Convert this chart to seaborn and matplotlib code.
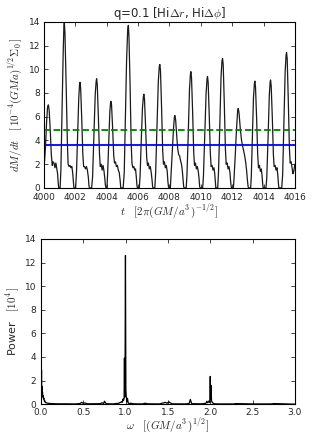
import numpy as np
import pandas as pd
import matplotlib
matplotlib.use('Agg')
import matplotlib.pyplot as plt
import seaborn as sns

# Akkretionsrate dM/dt (Zyklus fuer Zyklus)
t_vals = [
    4000.00, 4000.04, 4000.10, 4000.17, 4000.23, 4000.28, 4000.33, 4000.40, 4000.47, 4000.53, 4000.58, 4000.64, 4000.70, 4000.76, 4000.82, 4000.87, 4000.91, 4000.94, 4001.03,
    4001.08, 4001.15, 4001.22, 4001.27, 4001.30, 4001.34, 4001.41, 4001.49, 4001.54, 4001.60, 4001.66, 4001.72, 4001.78, 4001.83, 4001.88, 4001.91, 4002.02,
    4002.08, 4002.15, 4002.22, 4002.27, 4002.30, 4002.34, 4002.41, 4002.48, 4002.53, 4002.59, 4002.65, 4002.71, 4002.77, 4002.83, 4002.87, 4002.90, 4003.04,
    4003.10, 4003.18, 4003.27, 4003.33, 4003.36, 4003.40, 4003.47, 4003.54, 4003.59, 4003.65, 4003.71, 4003.77, 4003.83, 4003.88, 4003.92, 4003.96, 4004.02,
    4004.06, 4004.13, 4004.20, 4004.25, 4004.27, 4004.31, 4004.38, 4004.45, 4004.50, 4004.56, 4004.62, 4004.68, 4004.74, 4004.80, 4004.86, 4004.90, 4005.05,
    4005.12, 4005.19, 4005.27, 4005.34, 4005.38, 4005.42, 4005.49, 4005.56, 4005.61, 4005.67, 4005.73, 4005.79, 4005.84, 4005.89, 4005.93, 4005.96, 4006.08,
    4006.13, 4006.20, 4006.28, 4006.34, 4006.37, 4006.41, 4006.48, 4006.55, 4006.60, 4006.66, 4006.72, 4006.78, 4006.84, 4006.89, 4006.93, 4006.96, 4007.07,
    4007.12, 4007.20, 4007.29, 4007.35, 4007.39, 4007.43, 4007.50, 4007.57, 4007.62, 4007.68, 4007.74, 4007.80, 4007.86, 4007.90, 4007.94, 4007.97, 4008.06,
    4008.10, 4008.18, 4008.26, 4008.32, 4008.35, 4008.40, 4008.47, 4008.53, 4008.59, 4008.65, 4008.71, 4008.77, 4008.82, 4008.87, 4008.91, 4008.94, 4009.07,
    4009.12, 4009.20, 4009.28, 4009.34, 4009.37, 4009.41, 4009.48, 4009.55, 4009.60, 4009.66, 4009.72, 4009.78, 4009.84, 4009.89, 4009.93, 4009.96, 4010.12,
    4010.17, 4010.25, 4010.34, 4010.40, 4010.43, 4010.47, 4010.54, 4010.61, 4010.66, 4010.72, 4010.78, 4010.84, 4010.89, 4010.93, 4010.96, 4011.08,
    4011.13, 4011.21, 4011.29, 4011.35, 4011.39, 4011.43, 4011.50, 4011.57, 4011.62, 4011.68, 4011.74, 4011.80, 4011.86, 4011.90, 4011.94, 4011.97, 4012.08,
    4012.12, 4012.20, 4012.28, 4012.35, 4012.39, 4012.44, 4012.52, 4012.60, 4012.67, 4012.74, 4012.80, 4012.86, 4012.92, 4012.97, 4013.02, 4013.05, 4013.18,
    4013.22, 4013.29, 4013.36, 4013.42, 4013.45, 4013.49, 4013.56, 4013.63, 4013.68, 4013.74, 4013.80, 4013.86, 4013.91, 4013.95, 4013.98, 4014.16,
    4014.21, 4014.29, 4014.37, 4014.42, 4014.45, 4014.49, 4014.56, 4014.63, 4014.68, 4014.74, 4014.80, 4014.86, 4014.91, 4014.95, 4014.98, 4015.16,
    4015.22, 4015.30, 4015.38, 4015.44, 4015.47, 4015.51, 4015.58, 4015.65, 4015.70, 4015.76, 4015.82, 4015.88, 4015.93, 4016.00,
]
dmdt_vals = [
    1.7, 2.3, 3.5, 5.6, 6.8, 7.0, 6.6, 4.9, 2.8, 1.9, 2.2, 2.1, 1.7, 2.1, 1.6, 1.2, 0.4, 0.0, 0.0,
    1.5, 6.3, 11.0, 13.6, 14.0, 13.0, 9.0, 4.0, 2.0, 1.8, 1.9, 1.7, 1.8, 1.3, 0.5, 0.0, 0.0,
    1.5, 4.5, 7.6, 8.7, 8.9, 8.4, 5.8, 2.8, 1.8, 1.8, 1.6, 1.8, 1.5, 0.9, 0.2, 0.0, 0.0,
    0.9, 4.2, 7.9, 9.0, 9.2, 8.7, 6.0, 2.9, 1.8, 2.0, 1.5, 1.9, 1.4, 0.8, 0.2, 0.0, 0.1,
    1.2, 3.7, 6.4, 7.2, 7.3, 7.0, 5.0, 2.7, 2.1, 2.2, 1.8, 1.9, 1.5, 1.3, 0.6, 0.0, 0.0,
    1.3, 5.6, 10.8, 13.3, 13.7, 12.8, 8.8, 3.9, 2.1, 1.7, 1.8, 1.5, 1.6, 0.9, 0.2, 0.0, 0.0,
    1.0, 3.8, 6.7, 7.7, 7.9, 7.5, 5.2, 2.6, 1.9, 2.1, 1.6, 1.8, 1.3, 0.7, 0.1, 0.0, 0.0,
    1.2, 4.8, 8.9, 10.2, 10.4, 9.9, 6.8, 3.2, 2.0, 2.2, 1.7, 1.9, 1.4, 0.6, 0.1, 0.0, 0.0,
    1.0, 3.0, 5.0, 6.0, 6.1, 5.7, 4.3, 3.3, 2.8, 2.7, 2.3, 2.0, 1.5, 0.7, 0.1, 0.0, 0.0,
    1.1, 4.5, 8.3, 9.6, 9.8, 9.3, 6.4, 3.0, 1.9, 2.1, 1.6, 1.8, 1.4, 0.8, 0.1, 0.0, 0.0,
    1.0, 4.3, 8.0, 9.2, 9.4, 8.9, 6.1, 2.9, 1.8, 1.9, 1.5, 1.7, 1.2, 0.5, 0.0, 0.0,
    1.3, 5.1, 9.3, 10.7, 10.9, 10.4, 7.1, 3.3, 2.0, 2.1, 1.6, 1.8, 1.3, 0.6, 0.1, 0.0, 0.0,
    0.8, 2.8, 5.0, 6.5, 6.7, 6.3, 5.0, 4.0, 3.5, 3.1, 2.7, 2.2, 1.5, 0.7, 0.1, 0.0, 0.0,
    0.9, 4.1, 7.6, 8.8, 9.0, 8.5, 5.9, 2.8, 1.7, 1.9, 1.4, 1.6, 1.0, 0.3, 0.0, 0.0,
    0.9, 4.2, 7.8, 8.9, 9.1, 8.6, 6.0, 2.8, 1.8, 1.9, 1.5, 1.7, 1.1, 0.4, 0.0, 0.0,
    1.1, 5.3, 9.8, 11.2, 11.4, 10.9, 7.4, 3.4, 2.1, 2.2, 1.7, 1.2, 1.4, 2.0,
]
# Mittelwerte (gruen gestrichelt, blau)
mean_green = 4.84
mean_blue = 3.65

# Leistungsspektrum
omega_vals = [
    0.0, 0.003, 0.006, 0.009, 0.012, 0.015, 0.018, 0.022, 0.026, 0.03, 0.035, 0.04, 0.045, 0.05, 0.06,
    0.07, 0.08, 0.1, 0.15, 0.2,
    0.3, 0.4, 0.46, 0.48, 0.5, 0.52, 0.55, 0.7, 0.72, 0.74, 0.75, 0.77, 0.85, 0.92, 0.95, 0.96, 0.97,
    0.975, 0.982, 0.986, 0.989, 0.993, 0.998, 1.003, 1.008, 1.015, 1.022, 1.03, 1.04, 1.06, 1.1, 1.2,
    1.23, 1.26, 1.4, 1.47, 1.49, 1.51, 1.53, 1.55, 1.7, 1.75, 1.765, 1.78, 1.9, 1.95, 1.96, 1.97, 1.98,
    1.99, 1.995, 2.0, 2.004, 2.008, 2.015, 2.02, 2.03, 2.05, 2.1, 2.28, 2.3, 2.5, 2.72, 2.75, 3.0,
]
power_vals = [
    0.3, 1.2, 2.9, 1.1, 1.5, 0.9, 1.0, 0.6, 0.7, 0.45, 0.5, 0.25, 0.3, 0.15, 0.12,
    0.1, 0.08, 0.06, 0.04, 0.03,
    0.03, 0.02, 0.05, 0.15, 0.08, 0.1, 0.03, 0.04, 0.12, 0.05, 0.25, 0.04, 0.02, 0.08, 0.2, 0.15, 0.45,
    0.3, 0.5, 3.9, 0.6, 2.0, 12.6, 1.2, 0.6, 0.2, 0.5, 0.1, 0.05, 0.08, 0.03, 0.02,
    0.08, 0.03, 0.02, 0.15, 0.08, 0.2, 0.1, 0.03, 0.02, 0.05, 0.4, 0.04, 0.03, 0.08, 0.25, 0.12, 0.2,
    0.3, 0.15, 2.35, 0.4, 1.6, 0.3, 0.2, 0.1, 0.03, 0.02, 0.02, 0.05, 0.02, 0.02, 0.05, 0.0,
]

curve = pd.DataFrame({'t': t_vals, 'dmdt': dmdt_vals})
spec = pd.DataFrame({'omega': omega_vals, 'power': power_vals})

sns.set_style('ticks')
plt.rcParams['font.family'] = ['DejaVu Sans']
plt.rcParams['mathtext.fontset'] = 'cm'
plt.rcParams['xtick.direction'] = 'in'
plt.rcParams['ytick.direction'] = 'in'
plt.rcParams['xtick.top'] = True
plt.rcParams['ytick.right'] = True
plt.rcParams['xtick.major.size'] = 3
plt.rcParams['ytick.major.size'] = 3
plt.rcParams['axes.linewidth'] = 0.8
plt.rcParams['axes.edgecolor'] = 'black'

fig = plt.figure(figsize=(3.28, 4.36), dpi=100)
ax1 = fig.add_axes([0.134, 0.569, 0.765, 0.381])
ax2 = fig.add_axes([0.125, 0.073, 0.774, 0.379])

# oberes Panel: dM/dt
sns.lineplot(data=curve, x='t', y='dmdt', ax=ax1, color='#1a1a1a', lw=0.9)
ax1.axhline(mean_green, color='green', ls='--', lw=1.3)
ax1.axhline(mean_blue, color='blue', lw=1.3)
ax1.set_xlim(4000, 4016)
ax1.set_ylim(0, 14)
ax1.set_xticks(np.arange(4000, 4017, 2))
ax1.set_yticks(np.arange(0, 15, 2))
ax1.set_title(r'q=0.1 [Hi$\Delta r$, Hi$\Delta\phi$]', fontsize=8.5, pad=2)
ax1.set_ylabel(r'$dM/dt\quad[\,10^{-4}(GMa)^{1/2}\Sigma_0\,]$', fontsize=8, labelpad=3)

# unteres Panel: Leistungsspektrum
sns.lineplot(data=spec, x='omega', y='power', ax=ax2, color='black', lw=0.9)
ax2.set_xlim(0, 3)
ax2.set_ylim(0, 14)
ax2.set_xticks(np.arange(0, 3.01, 0.5))
ax2.set_yticks(np.arange(0, 15, 2))

for ax in (ax1, ax2):
    ax.tick_params(labelsize=6.5, width=0.6)
    ax.grid(False)
ax1.tick_params(axis='x', pad=3.5)
ax1.tick_params(axis='y', pad=2.5)
ax2.tick_params(axis='x', pad=2.5)
ax2.tick_params(axis='y', pad=3.5)

ax2.set_ylabel(r'Power   $[10^4\,]$', fontsize=8, labelpad=2)
ax1.set_xlabel(r'$t\quad[2\pi(GM/a^3\,)^{-1/2}]$', fontsize=8, labelpad=1)
ax2.set_xlabel(r'$\omega\quad[(GM/a^3\,)^{1/2}]$', fontsize=8, labelpad=0)

fig.savefig('out.png', dpi=100)
